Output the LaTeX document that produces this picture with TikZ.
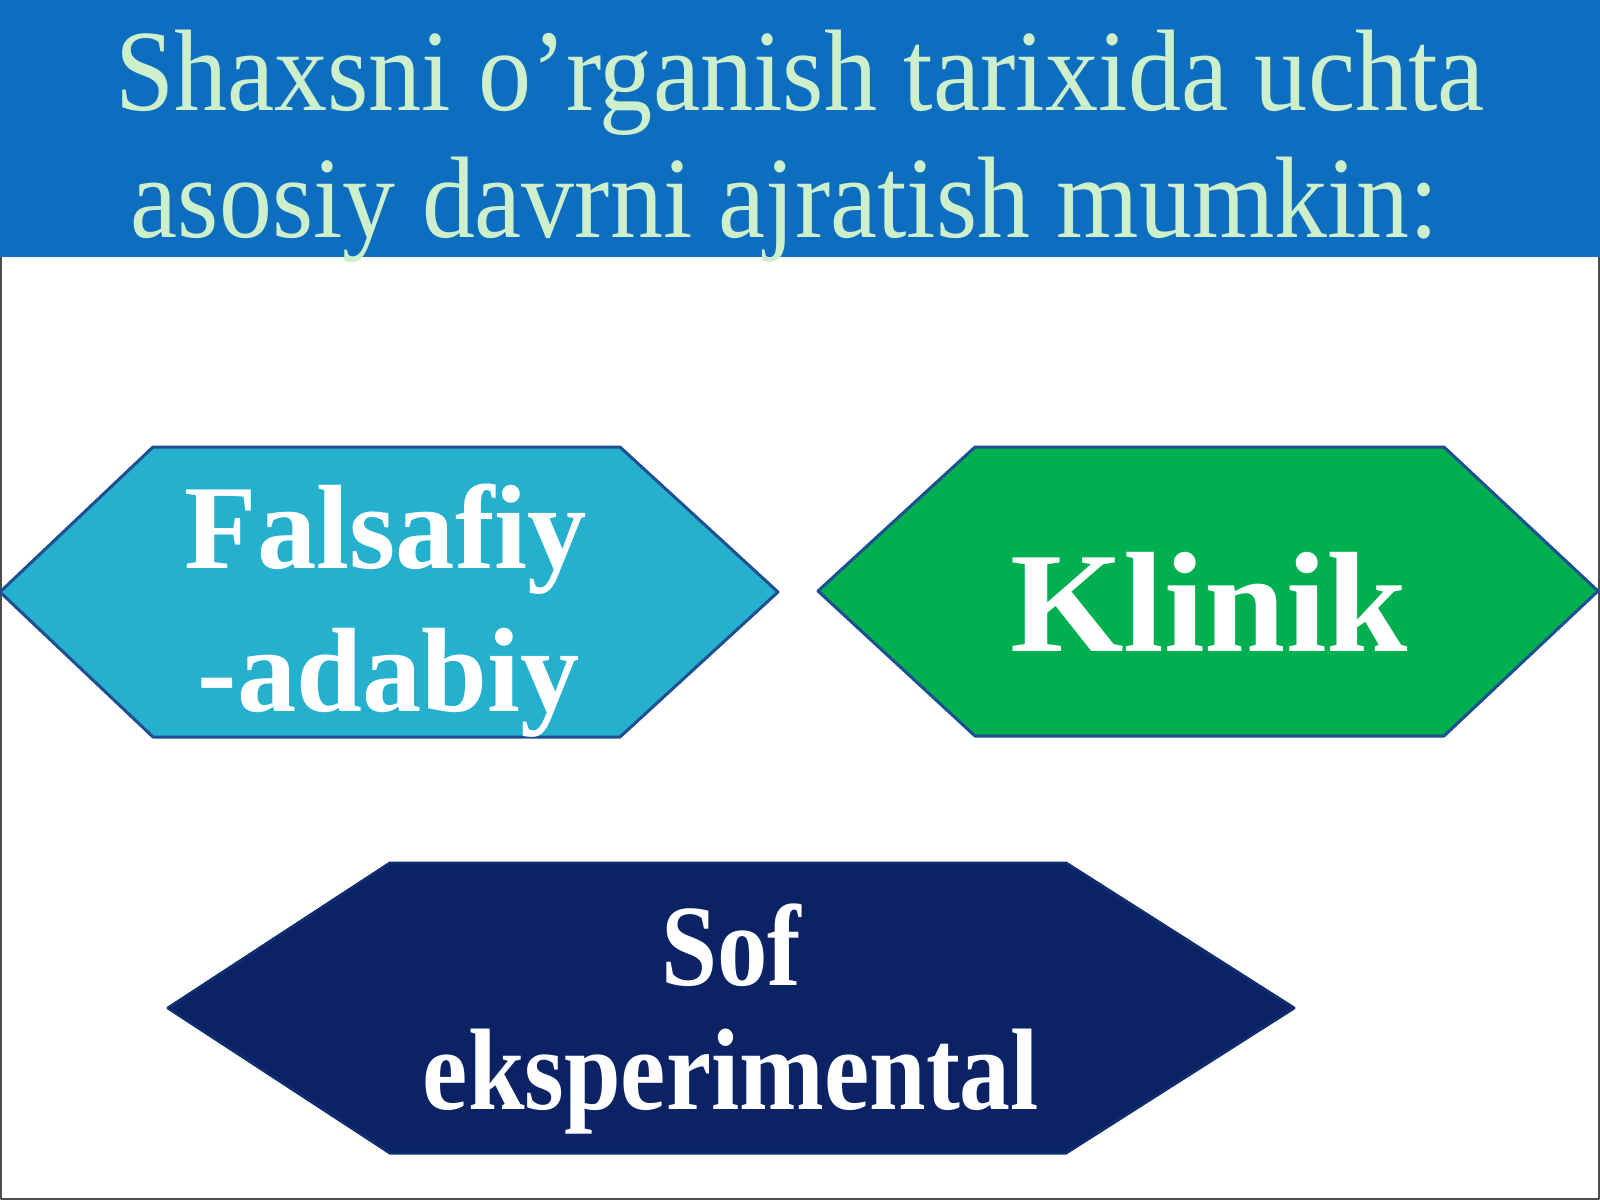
\documentclass[tikz,border=0pt]{standalone}
\usepackage{fontspec}
\setmainfont{Liberation Serif}
\definecolor{headblue}{HTML}{0D6EBF}
\definecolor{titlegreen}{HTML}{CDEFCB}
\definecolor{edgeblue}{HTML}{1F4E91}
\definecolor{falsafiycyan}{HTML}{25B1CD}
\definecolor{klinikgreen}{HTML}{00B050}
\definecolor{sofnavy}{HTML}{0B2365}
\newcommand{\fitwidth}[2]{\resizebox{#1}{\height}{#2}}

\begin{document}
\begin{tikzpicture}[x=0.5pt,y=-0.5pt,line join=round,
  title/.style={inner sep=0,anchor=base,text=titlegreen,font=\fontsize{58}{62}\selectfont},
  hexbox/.style={draw=edgeblue,line width=1.5pt},
  hextext/.style={inner sep=0,anchor=base,text=white}]
\useasboundingbox (0,0) rectangle (1600,1200);
\fill[white] (0,0) rectangle (1600,1200);
\fill[headblue] (0,0) rectangle (1600,257);
\draw[gray!60!black,line width=1pt] (1,257)--(1,1199)--(1599,1199)--(1599,257);

\node[title] (title1) at (800,110) {\fitwidth{685pt}{Shaxsni o’rganish tarixida uchta}};
\node[title] (title2) at (785,237) {\fitwidth{654pt}{asosiy davrni ajratish mumkin:}};

\filldraw[hexbox,fill=falsafiycyan](0,592)--(153,447)--(620,447)--(778,592)--(620,737)--(153,737)--cycle;
\filldraw[hexbox,fill=klinikgreen](818,591)--(975,447)--(1444,447)--(1598,591)--(1444,736)--(975,736)--cycle;
\filldraw[hexbox,draw=sofnavy!80!edgeblue,fill=sofnavy](168,1008)--(390,863)--(1066,863)--(1294,1008)--(1066,1153)--(390,1153)--cycle;

\node[hextext,font=\bfseries\fontsize{60}{70}\selectfont] (falsafiy1) at (386,568) {\fitwidth{201pt}{Falsafiy}};
\node[hextext,font=\bfseries\fontsize{60}{70}\selectfont] (falsafiy2) at (389,711) {\fitwidth{191pt}{-adabiy}};
\node[hextext,font=\bfseries\fontsize{71.5}{80}\selectfont] (klinik) at (1209,651) {\fitwidth{199pt}{Klinik}};
\node[hextext,font=\bfseries\fontsize{58}{66}\selectfont] (sof1) at (731,985) {\fitwidth{70pt}{Sof}};
\node[hextext,font=\bfseries\fontsize{58}{66}\selectfont] (sof2) at (731,1109) {\fitwidth{308pt}{eksperimental}};
\end{tikzpicture}
\end{document}
